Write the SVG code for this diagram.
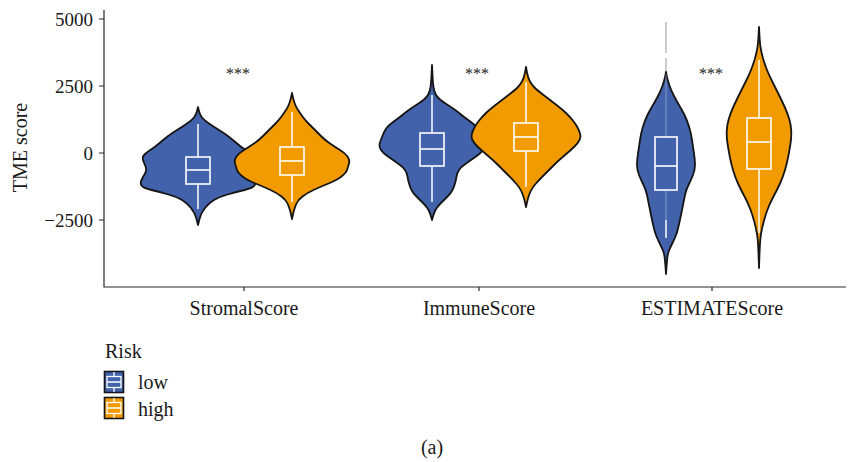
<svg xmlns="http://www.w3.org/2000/svg" width="848" height="462" viewBox="0 0 848 462">
<style>
text{font-family:"Liberation Serif","Times New Roman",serif;fill:#1a1a1a}
.tick{font-size:19px;text-anchor:end}
.xl{font-size:20px;text-anchor:middle}
.star{font-size:16px;text-anchor:middle;fill:#222}
.ax{stroke:#2a2a2a;stroke-width:1.2;fill:none}
.low{fill:#4262AB;stroke:#151515;stroke-width:1.8;stroke-linejoin:round}
.high{fill:#F29B00;stroke:#151515;stroke-width:1.8;stroke-linejoin:round}
.box{fill:none;stroke:#fff;stroke-width:1.6}
.wh{stroke:#fff;stroke-width:1.5}
</style>
<rect width="848" height="462" fill="#fff"/>
<g id="axes">
<path class="ax" d="M104,10 V287 H846"/>
<path class="ax" d="M99,19 H104 M99,86 H104 M99,153 H104 M99,220 H104 M244,287 V291 M479,287 V291 M712,287 V291"/>
<text class="tick" x="93" y="25.5">5000</text>
<text class="tick" x="93" y="92.5">2500</text>
<text class="tick" x="93" y="159.5">0</text>
<text class="tick" x="93" y="226.5">−2500</text>
<text class="xl" transform="translate(27,147.5) rotate(-90)">TME score</text>
<text class="xl" x="244" y="315">StromalScore</text>
<text class="xl" x="479" y="315">ImmuneScore</text>
<text class="xl" x="712" y="315">ESTIMATEScore</text>
</g>
<g id="stromal-low">
<path class="low" d="M198,107 L199,111 Q200,115 202,117.5 Q204,120 209,123.5 Q214,127 219,130 Q224,133 228.5,136.5 Q233,140 237,143.5 Q241,147 245,149.5 Q249,152 251.5,154.5 Q254,157 253,160 Q252,163 250.5,166.5 Q249,170 251,173.5 Q253,177 254.5,180 Q256,183 254.5,185.5 Q253,188 244.5,190 Q236,192 227.5,194.5 Q219,197 214,200 Q209,203 205,208 Q201,213 199.5,219 L198,225 L196.5,219 Q195,213 191,208 Q187,203 182,200 Q177,197 168.5,194.5 Q160,192 151.5,190 Q143,188 141.5,185.5 Q140,183 141.5,180 Q143,177 145,173.5 Q147,170 145.5,166.5 Q144,163 143,160 Q142,157 144.5,154.5 Q147,152 151,149.5 Q155,147 159,143.5 Q163,140 167.5,136.5 Q172,133 177,130 Q182,127 187,123.5 Q192,120 194,117.5 Q196,115 197,111 Z"/>
</g>
<g id="stromal-high">
<path class="high" d="M292,93 L292.75,96.5 Q293.5,100 294.75,103.5 Q296,107 298,110 Q300,113 302.5,116.5 Q305,120 308.5,123.5 Q312,127 315,130 Q318,133 321.5,136.5 Q325,140 330,143.5 Q335,147 340,150 Q345,153 347.5,156.5 Q350,160 349,163.5 Q348,167 347,170 Q346,173 341.5,176.5 Q337,180 328.5,183.5 Q320,187 313.5,190 Q307,193 302.5,196.5 Q298,200 296.5,203.5 Q295,207 294.25,209.5 Q293.5,212 292.75,215.5 L292,219 L291.25,215.5 Q290.5,212 289.75,209.5 Q289,207 287.5,203.5 Q286,200 281.5,196.5 Q277,193 270.5,190 Q264,187 255.5,183.5 Q247,180 242.5,176.5 Q238,173 237,170 Q236,167 235,163.5 Q234,160 236.5,156.5 Q239,153 244,150 Q249,147 254,143.5 Q259,140 262.5,136.5 Q266,133 269,130 Q272,127 275.5,123.5 Q279,120 281.5,116.5 Q284,113 286,110 Q288,107 289.25,103.5 Q290.5,100 291.25,96.5 Z"/>
</g>
<g id="immune-low">
<path class="low" d="M432,65 L432.5,75 Q433,85 433.75,88.5 Q434.5,92 435.75,94.5 Q437,97 440,99.5 Q443,102 447,104.5 Q451,107 454.5,109.5 Q458,112 461,114.5 Q464,117 467.5,119.5 Q471,122 474,124.5 Q477,127 478.5,129.5 Q480,132 481,134.5 Q482,137 483,139.5 Q484,142 484.5,144.5 Q485,147 483,150 Q481,153 476,156.5 Q471,160 466,163.5 Q461,167 459,170 Q457,173 456.5,176.5 Q456,180 455,183.5 Q454,187 452.5,190 Q451,193 447.5,196.5 Q444,200 440.5,203.5 Q437,207 435.5,210 Q434,213 433,216.5 L432,220 L431,216.5 Q430,213 428.5,210 Q427,207 423.5,203.5 Q420,200 416.5,196.5 Q413,193 411.5,190 Q410,187 409,183.5 Q408,180 407.5,176.5 Q407,173 405,170 Q403,167 398,163.5 Q393,160 388,156.5 Q383,153 381,150 Q379,147 379.5,144.5 Q380,142 381,139.5 Q382,137 383,134.5 Q384,132 385.5,129.5 Q387,127 390,124.5 Q393,122 396.5,119.5 Q400,117 403,114.5 Q406,112 409.5,109.5 Q413,107 417,104.5 Q421,102 424,99.5 Q427,97 428.25,94.5 Q429.5,92 430.25,88.5 Q431,85 431.5,75 Z"/>
</g>
<g id="immune-high">
<path class="high" d="M526,67 L527,72.5 Q528,78 530,81.5 Q532,85 534.5,87.5 Q537,90 543.5,95 Q550,100 556.5,105 Q563,110 566.5,113.5 Q570,117 572.5,120 Q575,123 577,126.5 Q579,130 580,133.5 Q581,137 579.5,140 Q578,143 574.5,146.5 Q571,150 565,155 Q559,160 554,165 Q549,170 544,175 Q539,180 535.5,184 Q532,188 530.5,191.5 Q529,195 528.25,197.5 Q527.5,200 526.75,203.5 L526,207 L525.25,203.5 Q524.5,200 523.75,197.5 Q523,195 521.5,191.5 Q520,188 516.5,184 Q513,180 508,175 Q503,170 498,165 Q493,160 487,155 Q481,150 477.5,146.5 Q474,143 472.5,140 Q471,137 472,133.5 Q473,130 475,126.5 Q477,123 479.5,120 Q482,117 485.5,113.5 Q489,110 495.5,105 Q502,100 508.5,95 Q515,90 517.5,87.5 Q520,85 522,81.5 Q524,78 525,72.5 Z"/>
</g>
<g id="estimate-low">
<path d="M666,22 V53 M666,58 V72" stroke="#9a9a9a" stroke-width="1"/>
<path class="low" d="M666,72 L666.75,76 Q667.5,80 669.25,85 Q671,90 673.5,95 Q676,100 679,105 Q682,110 684.5,115 Q687,120 689,126.5 Q691,133 692,140 Q693,147 694,153.5 Q695,160 695,165 Q695,170 693,175 Q691,180 688.5,185 Q686,190 685,195 Q684,200 683,205 Q682,210 681,215 Q680,220 678.5,226.5 Q677,233 675.5,236.5 Q674,240 672.25,243.5 Q670.5,247 669.25,250 Q668,253 667.5,256.5 Q667,260 666.5,267 L666,274 L665.5,267 Q665,260 664.5,256.5 Q664,253 662.75,250 Q661.5,247 659.75,243.5 Q658,240 656.5,236.5 Q655,233 653.5,226.5 Q652,220 651,215 Q650,210 649,205 Q648,200 647,195 Q646,190 643.5,185 Q641,180 639,175 Q637,170 637,165 Q637,160 638,153.5 Q639,147 640,140 Q641,133 643,126.5 Q645,120 647.5,115 Q650,110 653,105 Q656,100 658.5,95 Q661,90 662.75,85 Q664.5,80 665.25,76 Z"/>
</g>
<g id="estimate-high">
<path class="high" d="M759,27 L759.5,36 Q760,45 761,50 Q762,55 763.5,60 Q765,65 767,70 Q769,75 772,81 Q775,87 778.25,93.5 Q781.5,100 784.5,106.5 Q787.5,113 789.25,119 Q791,125 791.25,131 Q791.5,137 790.5,143.5 Q789.5,150 788.25,156.5 Q787,163 785,170 Q783,177 780,183.5 Q777,190 773.5,196.5 Q770,203 767.75,209 Q765.5,215 763.75,221.5 Q762,228 761,234 Q760,240 759.5,254 L759,268 L758.5,254 Q758,240 757,234 Q756,228 754.25,221.5 Q752.5,215 750.25,209 Q748,203 744.5,196.5 Q741,190 738,183.5 Q735,177 733,170 Q731,163 729.75,156.5 Q728.5,150 727.5,143.5 Q726.5,137 726.75,131 Q727,125 728.75,119 Q730.5,113 733.5,106.5 Q736.5,100 739.75,93.5 Q743,87 746,81 Q749,75 751,70 Q753,65 754.5,60 Q756,55 757,50 Q758,45 758.5,36 Z"/>
</g>
<g id="boxes">
<path class="wh" d="M198,124 V157 M198,184 V209"/>
<rect class="box" x="186" y="157" width="24" height="27"/>
<path class="box" d="M186,170 H210" stroke-width="2.2"/>
<path class="wh" d="M292,112 V147 M292,175 V202"/>
<rect class="box" x="280" y="147" width="24" height="28"/>
<path class="box" d="M280,161 H304" stroke-width="2.2"/>
<path class="wh" d="M432,95 V133 M432,166 V202"/>
<rect class="box" x="420" y="133" width="24" height="33"/>
<path class="box" d="M420,149 H444" stroke-width="2.2"/>
<path class="wh" d="M526,82 V123 M526,151 V187"/>
<rect class="box" x="514" y="123" width="24" height="28"/>
<path class="box" d="M514,137 H538" stroke-width="2.2"/>
<path d="M666,74 V137 M666,190 V220" stroke="#fff" stroke-width="0.8" opacity="0.45"/>
<path class="wh" d="M666,220 V238"/>
<rect class="box" x="655" y="137" width="22" height="53"/>
<path class="box" d="M655,166 H677" stroke-width="2.2"/>
<path class="wh" d="M759,60 V118 M759,169 V233"/>
<rect class="box" x="747" y="118" width="24" height="51"/>
<path class="box" d="M747,142 H771" stroke-width="2.2"/>
</g>
<g id="significance">
<text class="star" x="238" y="79">***</text>
<text class="star" x="477" y="79">***</text>
<text class="star" x="711" y="79">***</text>
</g>
<g id="connectors"></g>
<g id="legend">
<text x="105" y="358" font-size="20">Risk</text>
<g id="legend-low">
<rect x="104.5" y="371.5" width="19" height="21" fill="#4262AB" stroke="#151515" stroke-width="1.6"/>
<rect x="107" y="376.5" width="14" height="11" fill="none" stroke="#fff" stroke-width="1.3"/>
<path d="M107,382 H121 M114,372 V376.5 M114,387.5 V392" stroke="#fff" stroke-width="1.3"/>
<text x="138" y="389" font-size="20">low</text>
</g>
<g id="legend-high">
<rect x="104.5" y="397.5" width="19" height="21" fill="#F29B00" stroke="#151515" stroke-width="1.6"/>
<rect x="107" y="402.5" width="14" height="11" fill="none" stroke="#fff" stroke-width="1.3"/>
<path d="M107,408 H121 M114,398 V402.5 M114,413.5 V418" stroke="#fff" stroke-width="1.3"/>
<text x="138" y="416" font-size="20">high</text>
</g>
</g>
<text x="432" y="454" font-size="20" text-anchor="middle">(a)</text>
</svg>
